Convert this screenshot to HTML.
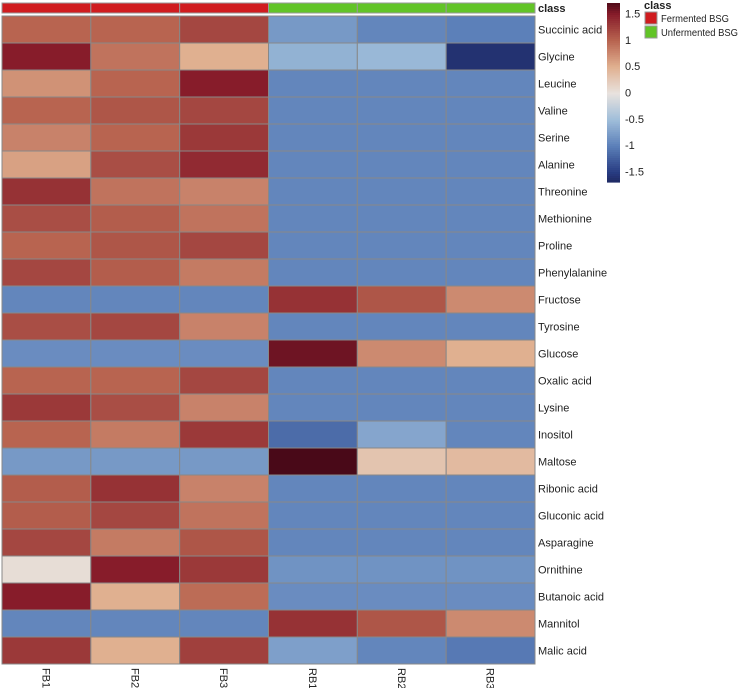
<!DOCTYPE html>
<html><head><meta charset="utf-8"><style>
body{margin:0;background:#fff;font-family:"Liberation Sans",sans-serif}
svg text{font-family:"Liberation Sans",sans-serif;fill:#222}
</style></head><body>
<svg id="c" width="740" height="688"></svg>
<script>
const samples=["FB1","FB2","FB3","RB1","RB2","RB3"];
const classes=["Fermented BSG","Fermented BSG","Fermented BSG","Unfermented BSG","Unfermented BSG","Unfermented BSG"];
const metabolites=["Succinic acid","Glycine","Leucine","Valine","Serine","Alanine","Threonine","Methionine","Proline","Phenylalanine","Fructose","Tyrosine","Glucose","Oxalic acid","Lysine","Inositol","Maltose","Ribonic acid","Gluconic acid","Asparagine","Ornithine","Butanoic acid","Mannitol","Malic acid"];
const values=[
[1.0,1.0,1.2,-0.8,-0.95,-1.0],
[1.5,0.9,0.5,-0.6,-0.55,-1.6],
[0.7,1.0,1.5,-0.95,-0.95,-0.95],
[1.0,1.1,1.2,-0.95,-0.95,-0.95],
[0.8,1.0,1.3,-0.95,-0.95,-0.95],
[0.6,1.15,1.4,-0.95,-0.95,-0.95],
[1.35,0.9,0.8,-0.95,-0.95,-0.95],
[1.15,1.05,0.9,-0.95,-0.95,-0.95],
[1.0,1.1,1.2,-0.95,-0.95,-0.95],
[1.2,1.05,0.85,-0.95,-0.95,-0.95],
[-0.95,-0.95,-0.95,1.35,1.1,0.75],
[1.15,1.2,0.8,-0.95,-0.95,-0.95],
[-0.9,-0.9,-0.9,1.6,0.75,0.5],
[1.0,1.0,1.2,-0.95,-0.95,-0.95],
[1.3,1.15,0.8,-0.95,-0.95,-0.95],
[1.0,0.85,1.3,-1.15,-0.7,-0.95],
[-0.8,-0.8,-0.8,1.75,0.3,0.4],
[1.05,1.35,0.8,-0.95,-0.95,-0.95],
[1.05,1.2,0.9,-0.95,-0.95,-0.95],
[1.2,0.85,1.1,-0.95,-0.95,-0.95],
[0.05,1.5,1.3,-0.85,-0.85,-0.85],
[1.5,0.5,0.95,-0.9,-0.9,-0.9],
[-0.95,-0.95,-0.95,1.35,1.1,0.75],
[1.3,0.5,1.25,-0.75,-0.95,-1.05]];
const ticks=[1.5,1,0.5,0,-0.5,-1,-1.5];
const stops=[[-1.8,[26,30,80]],[-1.5,[40,60,130]],[-1,[92,128,185]],[-0.5,[160,190,218]],[0,[232,226,222]],[0.5,[224,176,144]],[1,[184,100,80]],[1.5,[135,28,42]],[1.8,[60,5,20]]];
function col(v){if(v<=stops[0][0])return rgb(stops[0][1]);for(let i=1;i<stops.length;i++){if(v<=stops[i][0]){const a=stops[i-1],b=stops[i],t=(v-a[0])/(b[0]-a[0]);return rgb(a[1].map((c,k)=>Math.round(c+(b[1][k]-c)*t)));}}return rgb(stops[stops.length-1][1]);}
function rgb(a){return `rgb(${a[0]},${a[1]},${a[2]})`;}
const svg=document.getElementById('c'),NS="http://www.w3.org/2000/svg";
function mk(t,at,p){const e=document.createElementNS(NS,t);for(const k in at)e.setAttribute(k,at[k]);(p||svg).appendChild(e);return e;}
const x0=2,cw=533/6,y0=16,rh=27;
const xs=i=>x0+i*cw, ys=j=>y0+j*rh;
const clsCol={"Fermented BSG":"#d01c1f","Unfermented BSG":"#62c427"};
classes.forEach((c,i)=>{const r=mk('rect',{x:xs(i),y:3,width:cw,height:10,fill:clsCol[c],stroke:'#999','stroke-width':1});

});
let t=mk('text',{x:538,y:12,'font-size':11,'font-weight':'bold'});t.textContent='class';


values.forEach((row,j)=>{row.forEach((v,i)=>{const r=mk('rect',{x:xs(i),y:ys(j),width:cw,height:rh,fill:col(v),stroke:'#888','stroke-width':1});

});
const l=mk('text',{x:538,y:ys(j)+rh/2+4,'font-size':11});l.textContent=metabolites[j];

});
samples.forEach((s,i)=>{const cx=xs(i)+cw/2;const l=mk('text',{x:0,y:0,'font-size':11,transform:`translate(${cx-4},668) rotate(90)`});l.textContent=s;

});
// colorbar
const cbTop=3,cbBot=182,vmax=1.7,vmin=-1.7,cby=v=>cbTop+(vmax-v)/(vmax-vmin)*(cbBot-cbTop);
const g=mk('g',{});
for(let k=0;k<90;k++){const v=vmax-(vmax-vmin)*k/90;mk('rect',{x:607,y:cbTop+k*(cbBot-cbTop)/90,width:13,height:(cbBot-cbTop)/90+0.6,fill:col(v)},g);}
ticks.forEach(v=>{const l=mk('text',{x:625,y:cby(v)+4,'font-size':11});l.textContent=String(v);

});
t=mk('text',{x:644,y:9,'font-size':11,'font-weight':'bold'});t.textContent='class';


[["Fermented BSG","#d01c1f",68],["Unfermented BSG","#62c427",77]].forEach((e,k)=>{
const r=mk('rect',{x:645,y:12+k*14,width:12,height:12,fill:e[1],stroke:'#999'});


const l=mk('text',{x:661,y:22+k*14,'font-size':10.5,textLength:e[2],lengthAdjust:'spacingAndGlyphs'});l.textContent=e[0];

});
</script></body></html>
